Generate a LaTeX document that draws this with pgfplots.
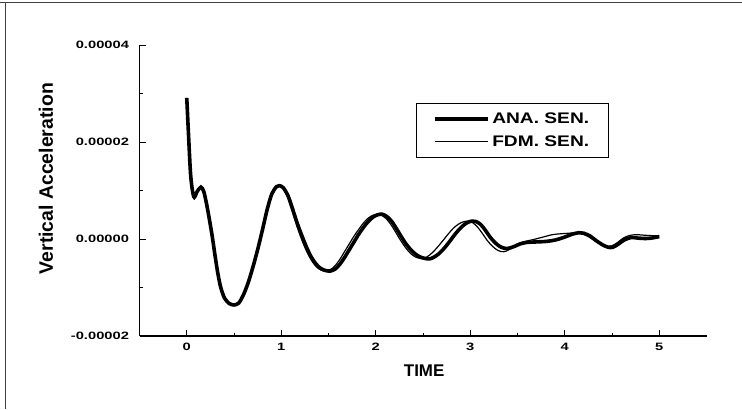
\documentclass[border=0pt]{standalone}
\usepackage{pgfplots}
\pgfplotsset{compat=1.18}
\usepackage{pgfplotstable}
\usepackage{fontspec}
\setmainfont{Liberation Sans}
\newfontfamily\widesans{Liberation Sans}[FakeStretch=1.38]
\newfontfamily\legsans{Liberation Sans}[FakeStretch=1.25]

\pgfplotstableread{
t v
0.00 2.91e-5
0.02 2.10e-5
0.04 1.35e-5
0.06 1.00e-5
0.08 0.86e-5
0.11 0.98e-5
0.15 1.07e-5
0.18 0.98e-5
0.21 0.72e-5
0.24 0.40e-5
0.27 0.05e-5
0.30 -0.35e-5
0.33 -0.72e-5
0.36 -1.00e-5
0.40 -1.22e-5
0.45 -1.33e-5
0.50 -1.36e-5
0.55 -1.32e-5
0.60 -1.15e-5
0.65 -0.90e-5
0.70 -0.58e-5
0.75 -0.22e-5
0.80 0.18e-5
0.85 0.60e-5
0.90 0.93e-5
0.95 1.08e-5
0.98 1.10e-5
1.02 1.06e-5
1.07 0.90e-5
1.12 0.62e-5
1.17 0.32e-5
1.22 0.06e-5
1.27 -0.18e-5
1.32 -0.38e-5
1.37 -0.52e-5
1.42 -0.61e-5
1.47 -0.65e-5
1.52 -0.66e-5
1.57 -0.62e-5
1.62 -0.52e-5
1.67 -0.38e-5
1.72 -0.22e-5
1.77 -0.06e-5
1.82 0.10e-5
1.87 0.24e-5
1.92 0.36e-5
1.97 0.45e-5
2.02 0.50e-5
2.07 0.51e-5
2.12 0.46e-5
2.17 0.36e-5
2.22 0.21e-5
2.27 0.05e-5
2.32 -0.10e-5
2.37 -0.22e-5
2.42 -0.31e-5
2.47 -0.37e-5
2.52 -0.40e-5
2.57 -0.41e-5
2.62 -0.37e-5
2.67 -0.30e-5
2.72 -0.20e-5
2.77 -0.08e-5
2.82 0.05e-5
2.87 0.17e-5
2.92 0.27e-5
2.97 0.34e-5
3.02 0.37e-5
3.06 0.36e-5
3.11 0.30e-5
3.16 0.18e-5
3.21 0.04e-5
3.26 -0.07e-5
3.31 -0.15e-5
3.36 -0.19e-5
3.41 -0.19e-5
3.47 -0.15e-5
3.53 -0.10e-5
3.60 -0.07e-5
3.70 -0.06e-5
3.80 -0.05e-5
3.90 -0.02e-5
4.00 0.04e-5
4.08 0.10e-5
4.15 0.13e-5
4.20 0.12e-5
4.27 0.06e-5
4.33 -0.03e-5
4.40 -0.12e-5
4.46 -0.17e-5
4.51 -0.17e-5
4.57 -0.10e-5
4.63 -0.02e-5
4.70 0.03e-5
4.77 0.02e-5
4.85 0.01e-5
4.92 0.02e-5
5.00 0.05e-5
}\ana

\pgfplotstableread{
t v
0.00 2.91e-5
0.02 2.10e-5
0.04 1.35e-5
0.06 1.00e-5
0.08 0.86e-5
0.11 0.98e-5
0.15 1.07e-5
0.18 0.98e-5
0.21 0.72e-5
0.24 0.40e-5
0.27 0.05e-5
0.30 -0.35e-5
0.33 -0.72e-5
0.36 -1.00e-5
0.40 -1.22e-5
0.45 -1.33e-5
0.50 -1.36e-5
0.55 -1.32e-5
0.60 -1.15e-5
0.65 -0.90e-5
0.70 -0.58e-5
0.75 -0.22e-5
0.80 0.18e-5
0.85 0.60e-5
0.90 0.93e-5
0.95 1.08e-5
0.98 1.09e-5
1.02 1.04e-5
1.07 0.85e-5
1.12 0.55e-5
1.17 0.24e-5
1.22 -0.03e-5
1.27 -0.26e-5
1.32 -0.44e-5
1.37 -0.57e-5
1.42 -0.64e-5
1.47 -0.66e-5
1.52 -0.63e-5
1.57 -0.55e-5
1.62 -0.42e-5
1.67 -0.26e-5
1.72 -0.10e-5
1.77 0.06e-5
1.82 0.20e-5
1.87 0.33e-5
1.92 0.43e-5
1.97 0.49e-5
2.02 0.51e-5
2.07 0.48e-5
2.12 0.40e-5
2.17 0.27e-5
2.22 0.11e-5
2.27 -0.05e-5
2.32 -0.19e-5
2.37 -0.30e-5
2.42 -0.37e-5
2.47 -0.40e-5
2.52 -0.39e-5
2.57 -0.33e-5
2.62 -0.24e-5
2.67 -0.13e-5
2.72 -0.01e-5
2.77 0.11e-5
2.82 0.22e-5
2.87 0.30e-5
2.92 0.35e-5
2.98 0.37e-5
3.03 0.33e-5
3.08 0.24e-5
3.13 0.11e-5
3.18 -0.03e-5
3.23 -0.14e-5
3.28 -0.22e-5
3.33 -0.26e-5
3.38 -0.25e-5
3.44 -0.18e-5
3.50 -0.10e-5
3.58 -0.05e-5
3.67 -0.01e-5
3.77 0.04e-5
3.87 0.09e-5
3.97 0.11e-5
4.05 0.12e-5
4.12 0.13e-5
4.18 0.11e-5
4.25 0.05e-5
4.32 -0.04e-5
4.39 -0.12e-5
4.45 -0.15e-5
4.50 -0.14e-5
4.56 -0.07e-5
4.62 0.02e-5
4.68 0.07e-5
4.75 0.09e-5
4.83 0.08e-5
4.92 0.07e-5
5.00 0.07e-5
}\fdm

\begin{document}
\begin{tikzpicture}[x=1bp,y=1bp]
\useasboundingbox (0,0) rectangle (742,-409);
\fill[white] (0,0) rectangle (742,-409);
\draw[black!75, line width=0.8bp] (0,-2.5) -- (742,-2.5);
\draw[black!75, line width=0.8bp] (5,-2.5) -- (5,-409);
\begin{axis}[
  at={(139.5bp,-336bp)}, anchor=south west,
  width=567bp, height=291bp, scale only axis,
  xmin=-0.5, xmax=5.5, ymin=-2e-5, ymax=4e-5,
  axis lines=left,
  axis line style={-, line width=1.3bp},
  xtick={0,1,2,3,4,5},
  xticklabels={0,1,2,3,4,5},
  ytick={-2e-5,0,2e-5,4e-5},
  yticklabels={-0.00002,0.00000,0.00002,0.00004},
  scaled y ticks=false,
  minor x tick num=1, minor y tick num=1,
  tick align=inside,
  major tick length=6.5bp, minor tick length=3.5bp,
  every tick/.style={black, line width=1bp},
  ticklabel style={font=\widesans\bfseries\fontsize{10.7}{12}\selectfont},
  xticklabel style={yshift=-4bp},
  yticklabel style={xshift=-7bp},
  xlabel={TIME},
  ylabel={Vertical Acceleration},
  xlabel style={font=\bfseries\fontsize{17}{20}\selectfont, at={(axis description cs:0.502,-0.12)}, anchor=center},
  ylabel style={font=\bfseries\fontsize{19.5}{22}\selectfont, at={(axis description cs:-0.165,0.541)}, anchor=center},
  legend style={at={(axis description cs:0.488,0.80)}, anchor=north west, draw=black, line width=0.9bp,
    inner xsep=17bp, inner ysep=5.5bp, row sep=2bp,
    nodes={inner xsep=2bp, inner ysep=4bp},
    font=\legsans\bfseries\fontsize{15.4}{17}\selectfont},
  legend cell align=left,
  legend image code/.code={\draw[#1] (0bp,0bp) -- (53bp,0bp);},
]
\addplot[black, line width=3.6bp, smooth, tension=0.5] table[x=t, y=v] {\ana};
\addlegendentry{ANA. SEN.}
\addplot[black, line width=1.2bp, smooth, tension=0.5] table[x=t, y=v] {\fdm};
\addlegendentry{FDM. SEN.}
\end{axis}
\end{tikzpicture}
\end{document}
